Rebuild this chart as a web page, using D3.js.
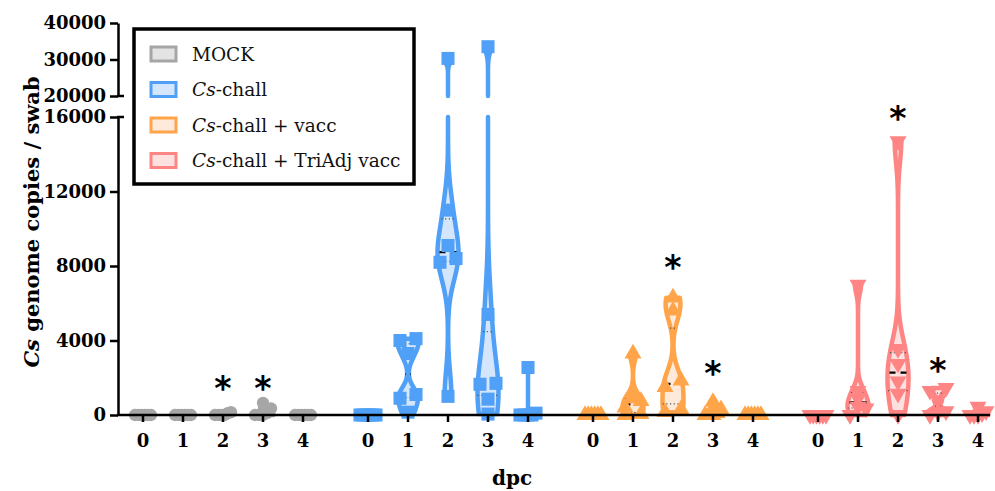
<!DOCTYPE html>
<html><head><meta charset="utf-8">
<script src="https://cdn.jsdelivr.net/npm/d3@7"></script>
<style>body{margin:0;background:#fff}svg{display:block}text{font-family:"DejaVu Serif",serif}</style>
</head><body><svg id="c" width="995" height="491"></svg>
<script>
// ---------- data ----------
const groups = ["MOCK", "Cs-chall", "Cs-chall + vacc", "Cs-chall + TriAdj vacc"];
const days = [0, 1, 2, 3, 4];
const mockValues   = [[0,0,0,0,0,0],[0,0,0,0,0,0],[150,100,0,0,0,0],[650,350,100,0,0,0],[0,0,0,0,0,0]];
const challValues  = [[0,0,0,0,0,0],[4100,4000,3300,1100,900,150],[30300,11000,9100,8400,8200,1000],[33500,5400,1700,1650,850,50],[2550,100,0,0,0,0]];
const vaccValues   = [[0,0,0,0,0,0],[3300,900,750,400,50,0],[6300,5600,1850,1500,300,150],[700,300,100,0,0,0],[0,0,0,0,0,0]];
const triAdjValues = [[0,0,0,0,0,0],[7000,1300,900,450,350,0],[14700,3550,2750,1800,1150,0],[1450,1300,800,200,150,0],[450,200,100,0,0,0]];
const sigGroup = [0, 0, 2, 2, 3, 3];
const sigDay   = [2, 3, 2, 3, 2, 3];
const sigValue = [1700, 1700, 8200, 2550, 16200, 2680];
const lowTicks = [0, 4000, 8000, 12000, 16000];
const highTicks = [20000, 30000, 40000];
const xAxisTitle = "dpc";
const yAxisTitle = " genome copies / swab";

// ---------- styles ----------
const seriesValues = [mockValues, challValues, vaccValues, triAdjValues];
const strokeCol = ["#a6a6a6", "#4fa0f6", "#ffa448", "#ff8585"];
const fillCol   = ["#e3e3e3", "#d4e6fc", "#feeadb", "#fde1e1"];
const symbols   = [d3.symbolCircle, d3.symbolSquare, d3.symbolTriangle, d3.symbolTriangle];
const symSize   = [120, 170, 125, 125];
const symRot    = [0, 0, 0, 180];

const svg = d3.select("#c");
const axisX = 118;
const xGroup = d3.scaleBand().domain(d3.range(groups.length)).range([143, 143 + 4 * 225]).padding(0);
const xDay = d3.scalePoint().domain(days).range([0, 160]);
const cxOf = (g, d) => xGroup(g) + xDay(d);
const yLow = d3.scaleLinear().domain([0, 16000]).range([415, 117]);
const yHigh = d3.scaleLinear().domain([20000, 40000]).range([96, 23]);
const yPos = v => v <= 16000 ? yLow(v) : (v >= 20000 ? yHigh(v) : null);

const maxHalf = 10.5;
function bandwidth(vals) {
  const s = vals.slice().sort(d3.ascending);
  const sd = d3.deviation(s) || 0;
  const iqr = (d3.quantile(s, 0.75) - d3.quantile(s, 0.25)) / 1.34;
  let m = iqr > 0 ? Math.min(sd, iqr) : sd;
  const silver = 0.9 * m * Math.pow(s.length, -0.2);
  return Math.min(1.2 * silver, (s[s.length - 1] - s[0]) / 8);
}

const gViolin = svg.append("g"), gLines = svg.append("g"), gMarks = svg.append("g");

seriesValues.forEach((series, g) => {
  series.forEach((vals, di) => {
    const d = days[di];
    const cx = cxOf(g, d);
    const lo = d3.min(vals), hi = d3.max(vals);
    let widthAt = () => 0;
    if (hi - lo > 1) {
      const h = bandwidth(vals);
      let ys = d3.range(401).map(i => lo + (hi - lo) * i / 400);
      [16000, 20000].forEach(b => { if (b > lo && b < hi) ys.push(b); });
      ys.sort(d3.ascending);
      const dens = ys.map(y => d3.sum(vals, v => Math.exp(-0.5 * ((y - v) / h) ** 2)));
      const mx = d3.max(dens);
      const pts = ys.map((y, i) => ({ v: y, w: dens[i] / mx * maxHalf }));
      widthAt = v => d3.sum(vals, u => Math.exp(-0.5 * ((v - u) / h) ** 2)) / mx * maxHalf;
      const segs = [pts.filter(p => p.v <= 16000), pts.filter(p => p.v >= 20000)].filter(s => s.length > 1);
      const area = d3.area().x0(p => cx - p.w).x1(p => cx + p.w).y(p => yPos(p.v));
      segs.forEach(s => {
        gViolin.append("path").attr("d", area(s))
          .attr("fill", fillCol[g]).attr("stroke", strokeCol[g])
          .attr("stroke-width", 4.5).attr("stroke-linejoin", "round");
      });
      const sorted = vals.slice().sort(d3.ascending);
      const med = d3.quantile(sorted, 0.5);
      [0.25, 0.75].forEach(q => {
        const qv = d3.quantile(sorted, q), w = Math.max(widthAt(qv), 3);
        if (yPos(qv) !== null)
          gLines.append("line").attr("x1", cx - w).attr("x2", cx + w)
            .attr("y1", yPos(qv)).attr("y2", yPos(qv))
            .attr("stroke", "#555").attr("stroke-width", 1.2).attr("stroke-dasharray", "1.2,2.5");
      });
      const wm = Math.max(widthAt(med), 3);
      const off = (((8.5 - wm) % 11) + 11) % 11;
      gLines.append("line").attr("x1", cx - wm).attr("x2", cx + wm)
        .attr("y1", yPos(med)).attr("y2", yPos(med))
        .attr("stroke", "#000").attr("stroke-width", 2.2)
        .attr("stroke-dasharray", "6,5").attr("stroke-dashoffset", off);
    }
    // markers with horizontal spreading of overlapping points
    const pts = vals.map(v => ({ v, py: yPos(v) })).sort((a, b) => b.py - a.py);
    const clusters = [];
    pts.forEach(p => {
      const c = clusters[clusters.length - 1];
      if (c && Math.abs(p.py - c[0].py) < 7) c.push(p); else clusters.push([p]);
    });
    clusters.forEach(c => {
      const k = c.length, s = k > 1 ? Math.min(16, 16 / (k - 1)) : 0;
      c.forEach((p, i) => p.dx = (i - (k - 1) / 2) * s);
    });
    const sym = d3.symbol().type(symbols[g]).size(symSize[g]);
    pts.forEach(p => {
      gMarks.append("path").attr("d", sym())
        .attr("transform", `translate(${cx + p.dx},${p.py}) rotate(${symRot[g]})`)
        .attr("fill", strokeCol[g]);
    });
  });
});

// significance asterisks
sigGroup.forEach((g, i) => {
  svg.append("text").attr("x", cxOf(g, sigDay[i])).attr("y", yLow(sigValue[i]) + 17)
    .attr("text-anchor", "middle").attr("font-size", 33).attr("font-weight", "bold")
    .style("font-family", "DejaVu Sans").text("*");
});

// ---------- axes ----------
const axStyle = sel => {
  sel.selectAll("path.domain").attr("stroke", "#000").attr("stroke-width", 2.5);
  sel.selectAll(".tick line").attr("stroke", "#000").attr("stroke-width", 2.5);
  sel.selectAll(".tick text").attr("font-size", 18).attr("font-weight", "bold")
    .style("font-family", "DejaVu Serif").attr("fill", "#000");
};
const yAxLow = svg.append("g").attr("transform", `translate(${axisX},0)`)
  .call(d3.axisLeft(yLow).tickValues(lowTicks).tickFormat(d3.format("d")).tickSize(8).tickSizeOuter(0).tickPadding(4));
axStyle(yAxLow);
const yAxHigh = svg.append("g").attr("transform", `translate(${axisX},0)`)
  .call(d3.axisLeft(yHigh).tickValues(highTicks).tickFormat(d3.format("d")).tickSize(8).tickSizeOuter(0).tickPadding(4));
axStyle(yAxHigh);
// break caps
[yLow(16000), yHigh(20000)].forEach(y => {
  svg.append("line").attr("x1", axisX - 1).attr("x2", axisX + 6).attr("y1", y).attr("y2", y)
    .attr("stroke", "#000").attr("stroke-width", 2.5);
});

// x axis
svg.append("line").attr("x1", axisX - 1).attr("x2", 990).attr("y1", yLow(0)).attr("y2", yLow(0))
  .attr("stroke", "#000").attr("stroke-width", 2.5);
groups.forEach((gname, g) => {
  days.forEach(d => {
    const cx = cxOf(g, d);
    svg.append("line").attr("x1", cx).attr("x2", cx).attr("y1", yLow(0)).attr("y2", yLow(0) + 7)
      .attr("stroke", "#000").attr("stroke-width", 2.5);
    svg.append("text").attr("x", cx).attr("y", 447).attr("text-anchor", "middle")
      .attr("font-size", 18).attr("font-weight", "bold").text(d);
  });
});

svg.append("text").attr("x", 512).attr("y", 485).attr("text-anchor", "middle")
  .attr("font-size", 20).attr("font-weight", "bold").text(xAxisTitle);

const yt = svg.append("text").attr("transform", "translate(39,222) rotate(-90)")
  .attr("text-anchor", "middle").attr("font-size", 21).attr("font-weight", "bold");
yt.append("tspan").attr("font-style", "italic").text("Cs");
yt.append("tspan").text(yAxisTitle);

// ---------- legend ----------
const lg = svg.append("g");
lg.append("rect").attr("x", 134).attr("y", 29).attr("width", 280).attr("height", 155)
  .attr("fill", "#fff").attr("stroke", "#000").attr("stroke-width", 3.5);
groups.forEach((name, i) => {
  const cy = 54 + i * 35.5;
  lg.append("rect").attr("x", 151).attr("y", cy - 7).attr("width", 25).attr("height", 14)
    .attr("fill", fillCol[i]).attr("stroke", strokeCol[i]).attr("stroke-width", 3);
  const t = lg.append("text").attr("x", 192).attr("y", cy + 6.5).attr("font-size", 18.5).attr("fill", "#111");
  if (name.startsWith("Cs")) {
    t.append("tspan").attr("font-style", "italic").text("Cs");
    t.append("tspan").text(name.slice(2));
  } else t.text(name);
});
</script></body></html>
